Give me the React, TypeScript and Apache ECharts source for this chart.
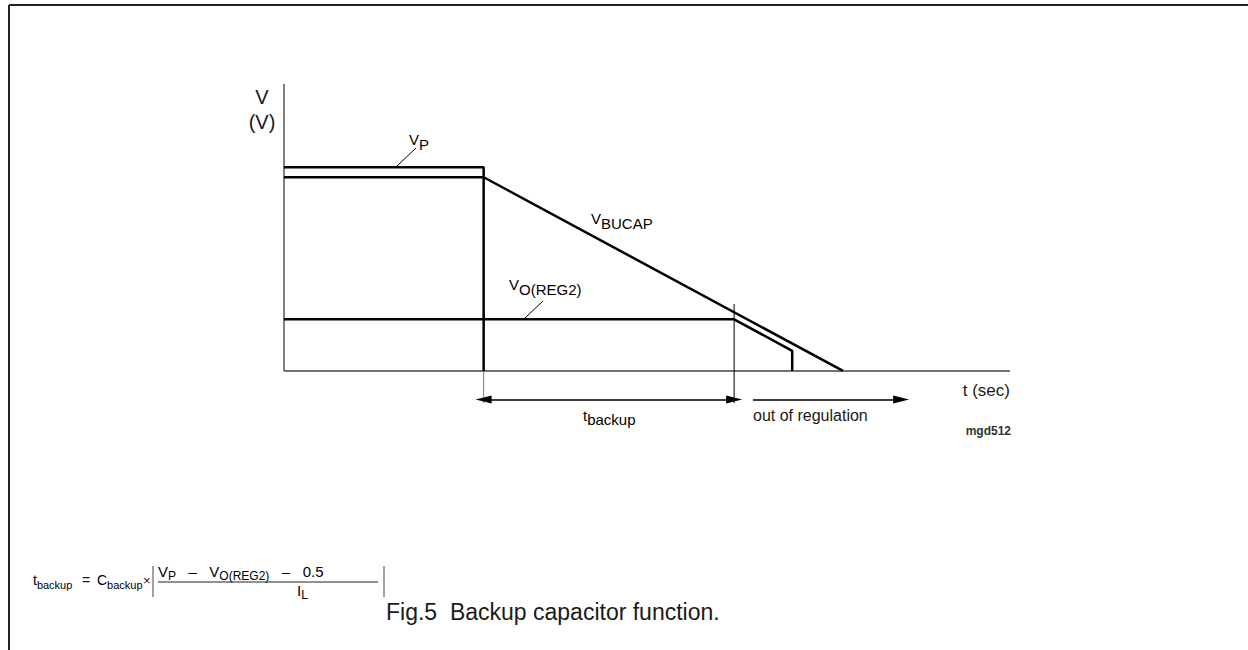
import React, { useEffect, useRef } from "react";
import * as echarts from "echarts";

// Curve data (arbitrary units: x = time, y = voltage)
const vpX = [0, 27.5, 27.5];
const vpY = [7.1, 7.1, 0];
const bucapX = [0, 27.5, 77];
const bucapY = [6.75, 6.75, 0];
const regX = [0, 62, 70, 70];
const regY = [1.8, 1.8, 0.7, 0];
// axes
const axisXs = [0, 100];
const axisYs = [0, 10];
// time markers
const tStart = 27.5;
const tEnd = 62;
const outEndX = 85;
const outStartX = 64.6;
const arrowY = -1;

const FONT = "Liberation Sans, Arial, sans-serif";
const INK = "#1a1a1a";

export default function App() {
  const ref = useRef<HTMLDivElement>(null);
  useEffect(() => {
    if (!ref.current) return;
    const chart = echarts.init(ref.current, undefined, { renderer: "svg" });
    const pts = (xs: number[], ys: number[]) => xs.map((x, i) => [x, ys[i]]);
    const thick = { color: "#000", width: 2.5 };
    const lineSeries = (name: string, data: number[][], ls: any) => ({
      type: "line",
      name,
      data,
      showSymbol: false,
      symbol: "none",
      lineStyle: ls,
      silent: true,
      clip: false,
      z: 3,
    });
    const main = { fontSize: 15, fontFamily: FONT, color: INK, verticalAlign: "middle", lineHeight: 16 };
    const sub = { fontSize: 15, fontFamily: FONT, color: INK, verticalAlign: "bottom", lineHeight: 25 };
    const fmain = { fontSize: 14, fontFamily: FONT, color: INK, verticalAlign: "middle", lineHeight: 15 };
    const fsub = { fontSize: 11, fontFamily: FONT, color: INK, verticalAlign: "bottom", lineHeight: 20 };
    const nmain = { fontSize: 15, fontFamily: FONT, color: INK, verticalAlign: "middle", lineHeight: 16 };
    const nsub = { fontSize: 12, fontFamily: FONT, color: INK, verticalAlign: "bottom", lineHeight: 21 };
    chart.setOption({
      animation: false,
      backgroundColor: "#fff",
      grid: { left: 284, top: 84, width: 726, height: 373, containLabel: false },
      xAxis: { type: "value", min: 0, max: 100, show: false },
      yAxis: { type: "value", min: -3, max: 10, show: false },
      series: [
        lineSeries("xaxis", pts(axisXs, [0, 0]), { color: "#444", width: 1.5 }),
        lineSeries("yaxis", pts([0, 0], axisYs), { color: "#555", width: 1.5 }),
        lineSeries("VP", pts(vpX, vpY), thick),
        lineSeries("VBUCAP", pts(bucapX, bucapY), thick),
        lineSeries("VO(REG2)", pts(regX, regY), thick),
        lineSeries("mark0", [[tStart, 0], [tStart, arrowY - 0.12]], { color: "#777", width: 1 }),
        lineSeries("mark1", [[tEnd, 2.33], [tEnd, arrowY - 0.12]], { color: "#000", width: 1 }),
        {
          type: "line",
          name: "arrows",
          data: [],
          markLine: {
            silent: true,
            animation: false,
            label: { show: false },
            lineStyle: { color: "#000", width: 1.5, type: "solid" },
            symbolSize: [8, 16],
            data: [
              [
                { coord: [tStart, arrowY], symbol: "triangle" },
                { coord: [tEnd, arrowY], symbol: "triangle" },
              ],
              [
                { coord: [outStartX, arrowY], symbol: "none" },
                { coord: [outEndX, arrowY], symbol: "triangle" },
              ],
            ],
          },
        },
      ],
      graphic: [
        // frame
        { type: "line", shape: { x1: 9, y1: 5, x2: 1248, y2: 5 }, style: { stroke: "#222", lineWidth: 2 } },
        { type: "line", shape: { x1: 9, y1: 5, x2: 9, y2: 650 }, style: { stroke: "#222", lineWidth: 2 } },
        // axis title
        { type: "text", x: 262, y: 97, style: { text: "V", font: `20px ${FONT}`, fill: INK, align: "center", verticalAlign: "middle" } },
        { type: "text", x: 262, y: 122, style: { text: "(V)", font: `20px ${FONT}`, fill: INK, align: "center", verticalAlign: "middle" } },
        // VP label + leader
        { type: "text", x: 409, y: 139, style: { text: "{m|V}{s|P}", rich: { m: main, s: sub }, align: "left", verticalAlign: "middle" } },
        { type: "line", shape: { x1: 416, y1: 148, x2: 397, y2: 166 }, style: { stroke: "#000", lineWidth: 1 } },
        // VBUCAP
        { type: "text", x: 591, y: 218, style: { text: "{m|V}{s|BUCAP}", rich: { m: main, s: sub }, align: "left", verticalAlign: "middle" } },
        // VO(REG2)
        { type: "text", x: 509, y: 284, style: { text: "{m|V}{s|O(REG2)}", rich: { m: main, s: sub }, align: "left", verticalAlign: "middle" } },
        { type: "line", shape: { x1: 543, y1: 301, x2: 525, y2: 318 }, style: { stroke: "#000", lineWidth: 1 } },
        // axis x title
        { type: "text", x: 1010, y: 390, style: { text: "t (sec)", font: `17px ${FONT}`, fill: INK, align: "right", verticalAlign: "middle" } },
        // t backup label
        { type: "text", x: 583, y: 415, style: { text: "{m|t}{s|backup}", rich: { m: main, s: { ...sub, lineHeight: 23 } }, align: "left", verticalAlign: "middle" } },
        { type: "text", x: 753, y: 415, style: { text: "out of regulation", font: `16px ${FONT}`, fill: INK, align: "left", verticalAlign: "middle" } },
        // figure code
        { type: "text", x: 1011, y: 431, style: { text: "mgd512", font: `bold 12px ${FONT}`, fill: "#333", align: "right", verticalAlign: "middle" } },
        // formula
        { type: "text", x: 33, y: 580, style: { text: "{m|t}{s|backup}", rich: { m: fmain, s: fsub }, align: "left", verticalAlign: "middle" } },
        { type: "text", x: 82, y: 580, style: { text: "=", font: `14px ${FONT}`, fill: INK, align: "left", verticalAlign: "middle" } },
        { type: "text", x: 97, y: 580, style: { text: "{m|C}{s|backup}", rich: { m: fmain, s: fsub }, align: "left", verticalAlign: "middle" } },
        { type: "text", x: 143, y: 580, style: { text: "×", font: `13px ${FONT}`, fill: INK, align: "left", verticalAlign: "middle" } },
        { type: "line", shape: { x1: 153, y1: 566, x2: 153, y2: 597 }, style: { stroke: "#444", lineWidth: 1 } },
        { type: "text", x: 158, y: 571, style: { text: "{m|V}{s|P}{m|   –   V}{s|O(REG2)}{m|   –   0.5}", rich: { m: nmain, s: nsub }, align: "left", verticalAlign: "middle" } },
        { type: "line", shape: { x1: 158, y1: 582, x2: 378, y2: 582 }, style: { stroke: "#222", lineWidth: 1 } },
        { type: "text", x: 297, y: 590, style: { text: "{m|I}{s|L}", rich: { m: nmain, s: nsub }, align: "left", verticalAlign: "middle" } },
        { type: "line", shape: { x1: 384, y1: 566, x2: 384, y2: 597 }, style: { stroke: "#444", lineWidth: 1 } },
        // caption
        { type: "text", x: 386, y: 612, style: { text: "Fig.5  Backup capacitor function.", font: `23px ${FONT}`, fill: INK, align: "left", verticalAlign: "middle" } },
      ],
    });
    return () => chart.dispose();
  }, []);
  return <div ref={ref} style={{ position: "fixed", left: 0, top: 0, width: 1248, height: 650 }} />;
}
